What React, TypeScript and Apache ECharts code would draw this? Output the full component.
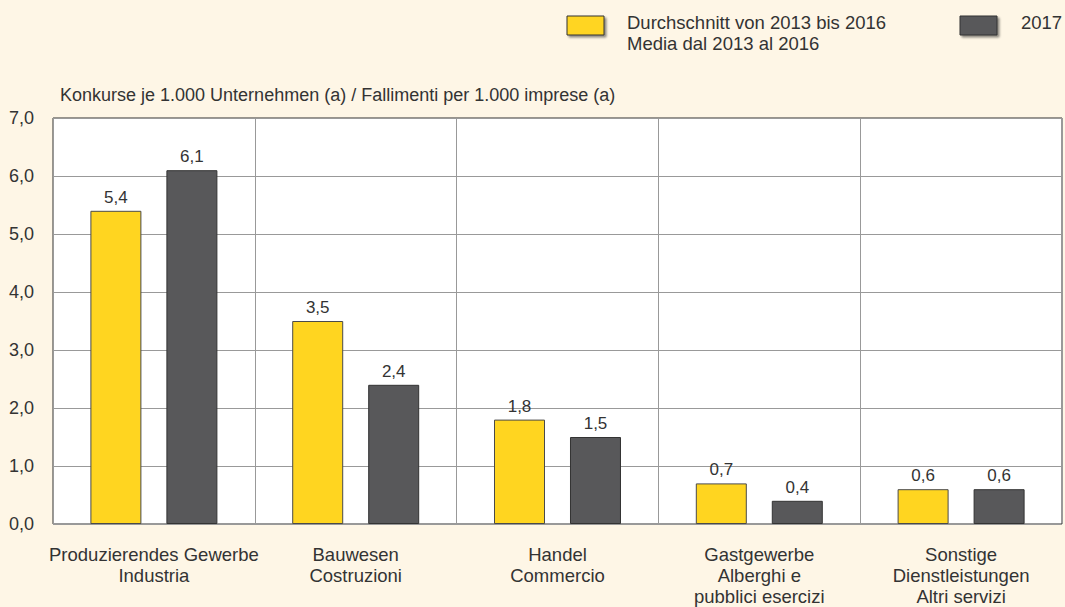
import React, { useEffect, useRef } from "react";
import * as echarts from "echarts";

const categories = [
  "Produzierendes Gewerbe\nIndustria",
  "Bauwesen\nCostruzioni",
  "Handel\nCommercio",
  "Gastgewerbe\nAlberghi e\npubblici esercizi",
  "Sonstige\nDienstleistungen\nAltri servizi",
];
const avg2013to2016 = [5.4, 3.5, 1.8, 0.7, 0.6];
const values2017 = [6.1, 2.4, 1.5, 0.4, 0.6];
const seriesNames = ["Durchschnitt von 2013 bis 2016\nMedia dal 2013 al 2016", "2017"];
const axisTitle = "Konkurse je 1.000 Unternehmen (a) / Fallimenti per 1.000 imprese (a)";

const FONT = "'Liberation Sans', Arial, sans-serif";
const TXT = "#333333";
const YELLOW = "#FFD520";
const DARK = "#58585A";
const fmt = (v: number) => v.toFixed(1).replace(".", ",");

export default function App() {
  const ref = useRef<HTMLDivElement>(null);
  useEffect(() => {
    if (!ref.current) return;
    const chart = echarts.init(ref.current, undefined, { renderer: "svg" });
    const label = {
      show: true,
      position: "top" as const,
      distance: 5,
      fontFamily: FONT,
      fontSize: 17,
      color: TXT,
      formatter: (p: any) => fmt(p.value),
    };
    const shadow = {
      shadowBlur: 2,
      shadowOffsetX: 2,
      shadowOffsetY: 2,
      shadowColor: "rgba(0,0,0,0.45)",
    };
    chart.setOption({
      animation: false,
      backgroundColor: "#FEF6E6",
      textStyle: { fontFamily: FONT },
      grid: {
        left: 53,
        right: 3,
        top: 118,
        bottom: 79,
        show: true,
        backgroundColor: "#FFFFFF",
        borderColor: "#333333",
        borderWidth: 1,
      },
      xAxis: {
        type: "category",
        data: categories,
        axisLine: { show: false },
        axisTick: { show: false },
        splitLine: { show: true, interval: 0, lineStyle: { color: "#999999", width: 1 } },
        axisLabel: {
          interval: 0,
          margin: 20,
          fontFamily: FONT,
          fontSize: 18.5,
          lineHeight: 21,
          color: TXT,
        },
      },
      yAxis: {
        type: "value",
        min: 0,
        max: 7,
        interval: 1,
        axisLine: { show: false },
        axisTick: { show: false },
        splitLine: { lineStyle: { color: "#999999", width: 1 } },
        axisLabel: {
          margin: 19,
          fontFamily: FONT,
          fontSize: 18,
          color: TXT,
          formatter: (v: number) => fmt(v),
        },
      },
      series: [
        {
          name: seriesNames[0],
          type: "bar",
          data: avg2013to2016,
          barWidth: 51,
          barGap: "49%",
          itemStyle: { color: YELLOW, borderColor: "#4a4a4a", borderWidth: 1 },
          label,
        },
        {
          name: seriesNames[1],
          type: "bar",
          data: values2017,
          barWidth: 51,
          itemStyle: { color: DARK, borderColor: "#333333", borderWidth: 1 },
          label,
        },
      ],
      graphic: [
        {
          type: "text",
          left: 60,
          top: 86,
          style: { text: axisTitle, fontFamily: FONT, fontSize: 18, fill: TXT },
        },
        {
          type: "rect",
          shape: { x: 567, y: 16, width: 37, height: 19 },
          style: { fill: YELLOW, stroke: "#333333", lineWidth: 1, ...shadow },
        },
        {
          type: "text",
          left: 627,
          top: 12,
          style: {
            text: seriesNames[0],
            fontFamily: FONT,
            fontSize: 18.5,
            lineHeight: 21,
            fill: TXT,
          },
        },
        {
          type: "rect",
          shape: { x: 960, y: 16, width: 37, height: 19 },
          style: { fill: DARK, stroke: "#333333", lineWidth: 1, ...shadow },
        },
        {
          type: "text",
          left: 1021,
          top: 12,
          style: { text: seriesNames[1], fontFamily: FONT, fontSize: 18.5, lineHeight: 21, fill: TXT },
        },
      ],
    });
    return () => chart.dispose();
  }, []);
  return (
    <div
      ref={ref}
      style={{ position: "fixed", left: 0, top: 0, width: 1065, height: 607 }}
    />
  );
}
